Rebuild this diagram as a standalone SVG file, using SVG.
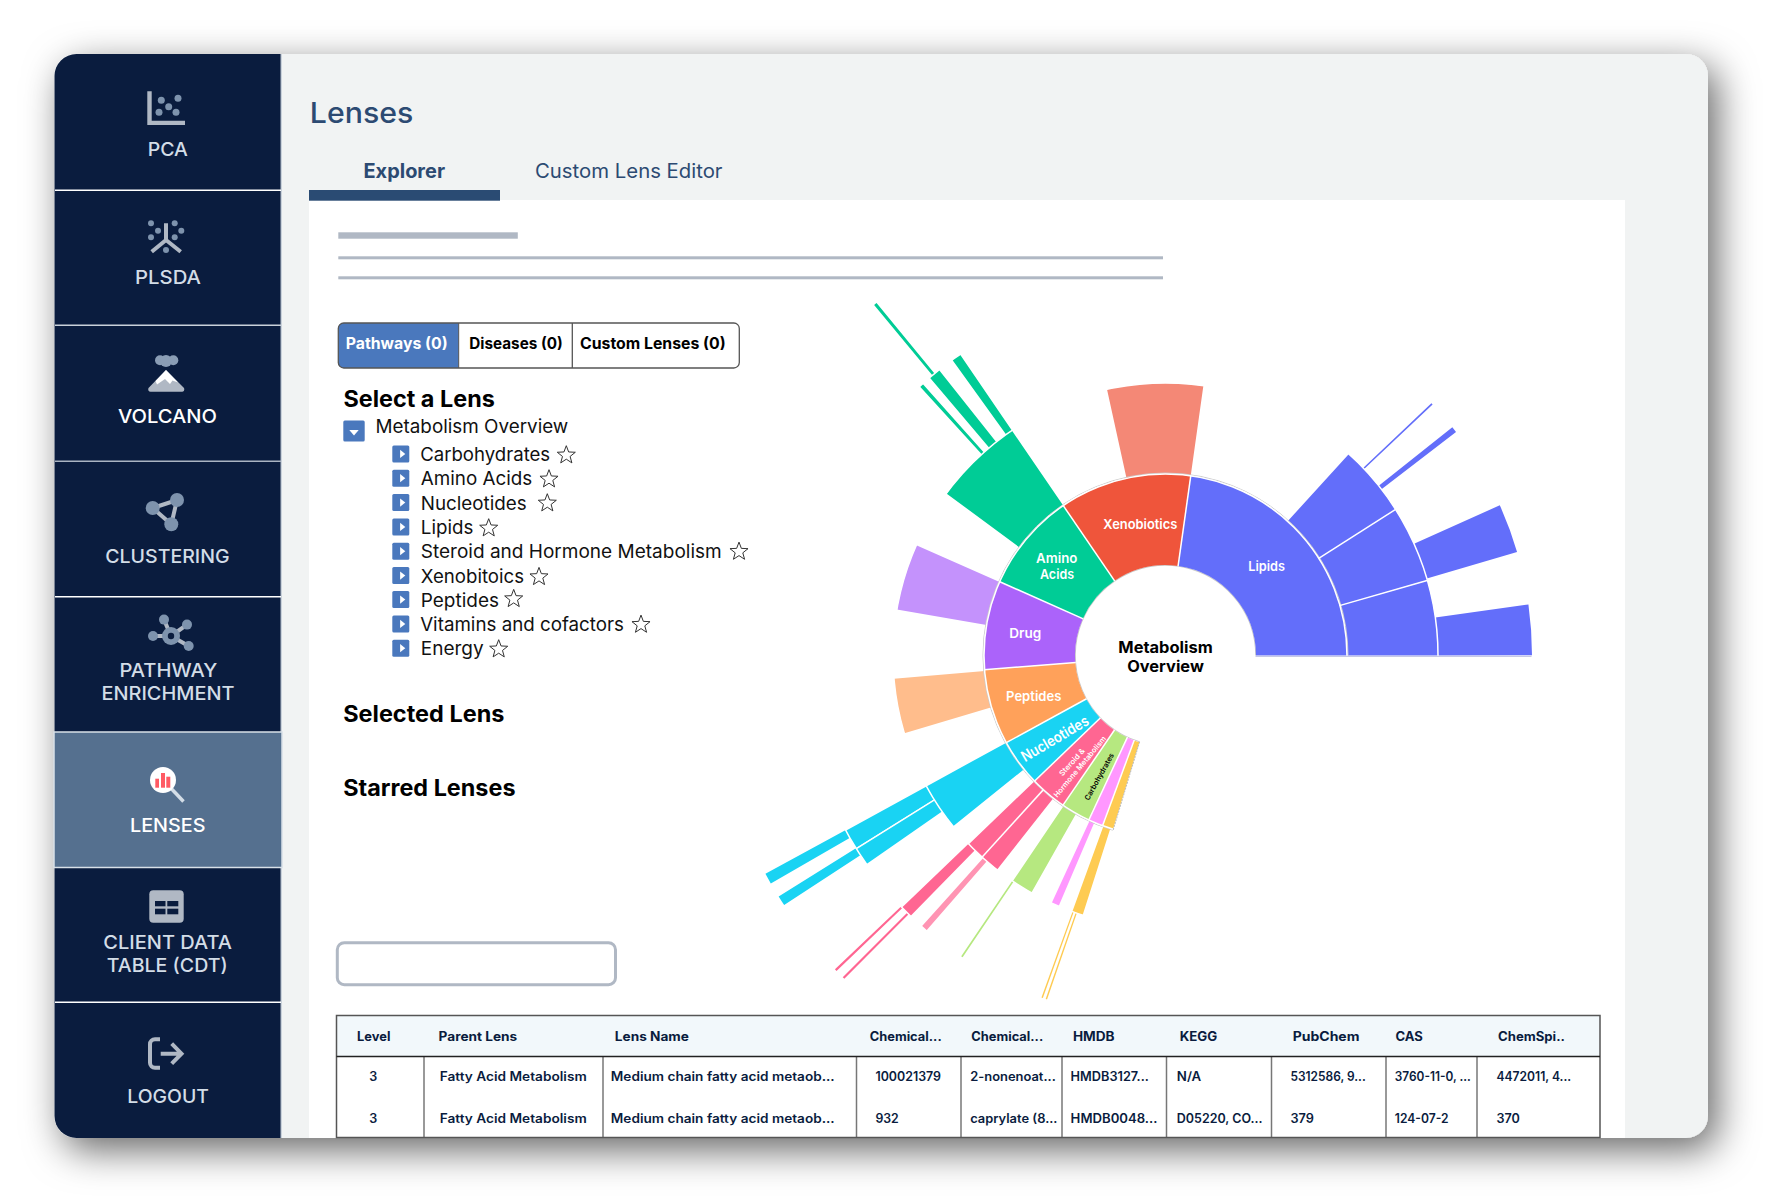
<svg xmlns="http://www.w3.org/2000/svg" xmlns:xlink="http://www.w3.org/1999/xlink" width="1775" height="1204" viewBox="0 0 1775 1204">
<defs>
<filter id="shadow" x="-10%" y="-10%" width="120%" height="125%"><feDropShadow dx="9" dy="12" stdDeviation="19" flood-color="#000" flood-opacity="0.6"/></filter>
<polygon id="star" points="0,-9.5 2.35,-3.24 9.03,-2.94 3.8,1.24 5.58,7.69 0,4 -5.58,7.69 -3.8,1.24 -9.03,-2.94 -2.35,-3.24" fill="none" stroke="#333" stroke-width="1"/>
<g id="box"><rect width="17" height="17" rx="1.5" fill="#4a78bd"/><polygon points="7.8,4.4 13,8.5 7.8,12.6" fill="#fff"/></g>
</defs>
<style>
text{font-family:Inter,"Noto Sans","Liberation Sans",sans-serif}
.nav{font-size:19px;font-weight:500;fill:#d3dde7;text-anchor:start}
.navw{font-size:19px;font-weight:500;fill:#fff}
.ic{fill:#b0b8c4}
.dot{fill:#7e93ad}
.st{fill:none;stroke:#b0b8c4;stroke-width:4}
.h{font-size:22.5px;font-weight:700;fill:#000}
.tr{font-size:18.5px;font-weight:400;fill:#111}
.tab{font-size:15.5px;font-weight:700;fill:#000}
.th{font-size:12.5px;font-weight:700;fill:#0a1c3e}
.td{font-size:12.5px;font-weight:600;fill:#0a1c3e}
.grid{stroke:#777;stroke-width:1.5;fill:none}
.sep{stroke:#fff;stroke-width:1.5}
.lab{font-size:13.5px;font-weight:600;fill:#fff;text-anchor:middle}
</style>

<rect width="1775" height="1204" fill="#fff"/>
<g id="page" transform="translate(0 1)">
<g id="card">
<rect x="54.500" y="53" width="1653.500" height="1084" rx="22" fill="#f1f3f3" filter="url(#shadow)"/>
<rect x="309" y="199" width="1316" height="938" fill="#fff"/>
</g>

<g id="sidebar">
<path d="M281 53H76.500a22 22 0 0 0-22 22V1115a22 22 0 0 0 22 22H281Z" fill="#0a1c3e"/>
<rect x="280.500" y="53" width="1.200" height="1084" fill="#b9c3d0"/>
<rect x="54" y="731" width="228" height="135.500" fill="#55708f" stroke="#d8e0e8" stroke-width="1.500"/>
<g fill="#fff">
<rect x="55" y="188.500" width="226" height="1.500"/>
<rect x="55" y="323.500" width="226" height="1.500" fill="#c9d1da"/>
<rect x="55" y="459.500" width="226" height="1.500" fill="#aab4c2"/>
<rect x="55" y="595" width="226" height="1.500"/>
<rect x="55" y="1000.500" width="226" height="1.500"/>
</g>
<g id="nav-pca" transform="translate(0 -1)">
<path class="ic" d="M147.300 91.300h4.400v29.400H185V125H147.300Z"/>
<g class="dot"><circle cx="161.300" cy="100.300" r="3.500"/><circle cx="178" cy="98.300" r="3.500"/><circle cx="168.700" cy="106.700" r="3.500"/><circle cx="159" cy="112.300" r="3.500"/><circle cx="176" cy="112.300" r="3.500"/></g>
<text class="nav" x="147.700" y="155.700" textLength="40.200" lengthAdjust="spacingAndGlyphs">PCA</text>
</g>
<g id="nav-plsda" transform="translate(0 -1)">
<g class="dot"><circle cx="151" cy="223.300" r="3"/><circle cx="174.700" cy="223.300" r="3"/><circle cx="158" cy="230.700" r="3"/><circle cx="181.300" cy="230.700" r="3"/><circle cx="151" cy="237.300" r="3"/><circle cx="174.700" cy="237.300" r="3"/><circle cx="166" cy="250" r="3"/></g>
<path class="st" d="M166 223.300V240M151.700 251.700 166 240 180.700 251.700"/>
<text class="nav" x="135" y="284" textLength="66" lengthAdjust="spacingAndGlyphs">PLSDA</text>
</g>
<g id="nav-volcano" transform="translate(0 -1)">
<g fill="#8a9db5"><circle cx="160" cy="360.300" r="5"/><circle cx="166" cy="361" r="6"/><circle cx="173.300" cy="360.300" r="5"/></g>
<path class="ic" d="M166 370 184 388a2.500 2.500 0 0 1-2 3.700H150.500a2.500 2.500 0 0 1-2-3.700Z"/>
<path fill="#fff" d="M166 370 178 382.500 172.500 380.500 170 384 165 379 157 384.500 155.500 381Z"/>
<text class="navw" x="117.900" y="423" textLength="99.100" lengthAdjust="spacingAndGlyphs">VOLCANO</text>
</g>
<g id="nav-clustering" transform="translate(0 -0.700)">
<path fill="none" stroke="#b0b8c4" stroke-width="4" d="M152.700 507.700 177 499.700 171.300 524Z"/>
<g class="dot"><circle cx="152.700" cy="507.700" r="7"/><circle cx="177" cy="499.700" r="7"/><circle cx="171.300" cy="524" r="7"/></g>
<text class="nav" x="105.200" y="563" textLength="124.400" lengthAdjust="spacingAndGlyphs">CLUSTERING</text>
</g>
<g id="nav-pathway" transform="translate(0 -0.700)">
<path class="st" d="M171 635.700 164 619.300M171 635.700 187 624.300M171 635.700H153M171 635.700 188.700 645.700" stroke-width="3"/>
<g class="dot"><circle cx="164" cy="619.300" r="5"/><circle cx="187" cy="624.300" r="5"/><circle cx="153" cy="635.700" r="5"/><circle cx="188.700" cy="645.700" r="5"/><circle cx="171" cy="635.700" r="9"/></g>
<circle cx="171" cy="635.700" r="3.200" fill="#0a1c3e"/>
<text class="nav" x="119.400" y="676.700" textLength="98" lengthAdjust="spacingAndGlyphs">PATHWAY</text>
<text class="nav" x="101.400" y="699.300" textLength="133.200" lengthAdjust="spacingAndGlyphs">ENRICHMENT</text>
</g>
<g id="nav-lenses">
<line x1="171.700" y1="788" x2="183.500" y2="800.500" stroke="#d3dde7" stroke-width="3.500"/>
<circle cx="163" cy="779" r="13" fill="#fff"/>
<g fill="#ff5a64"><rect x="155.300" y="777.700" width="3.700" height="9"/><rect x="161" y="772" width="4" height="14.700"/><rect x="166.300" y="775.700" width="4" height="11"/></g>
<text class="navw" x="130" y="831" textLength="75.500" lengthAdjust="spacingAndGlyphs">LENSES</text>
</g>
<g id="nav-cdt">
<rect class="ic" x="149.300" y="889.300" width="34.400" height="32.400" rx="4"/>
<g fill="#0a1c3e"><rect x="155" y="900" width="10.500" height="5.300"/><rect x="167.300" y="900" width="11" height="5.300"/><rect x="155" y="907.700" width="10.500" height="5.600"/><rect x="167.300" y="907.700" width="11" height="5.600"/></g>
<text class="nav" x="103.300" y="948.300" textLength="128.700" lengthAdjust="spacingAndGlyphs">CLIENT DATA</text>
<text class="nav" x="106.700" y="971" textLength="121" lengthAdjust="spacingAndGlyphs">TABLE (CDT)</text>
</g>
<g id="nav-logout">
<path fill="none" stroke="#b0b8c4" stroke-width="4" d="M160 1038.300h-5a5 5 0 0 0-5 5v18.400a5 5 0 0 0 5 5h5"/>
<path fill="none" stroke="#b0b8c4" stroke-width="4" d="M160.700 1052.700H181M171.700 1042.700 181.500 1052.700 171.700 1062.700"/>
<text class="nav" x="127.300" y="1101.700" textLength="81.700" lengthAdjust="spacingAndGlyphs">LOGOUT</text>
</g>
</g>

<g id="header" transform="translate(0 -1)">
<text x="309.800" y="122.700" font-size="29" font-weight="500" fill="#2c4a72" textLength="103.500" lengthAdjust="spacingAndGlyphs">Lenses</text>
<text x="363.500" y="177.700" font-size="19.500" font-weight="700" fill="#2c4a72" textLength="81.500" lengthAdjust="spacingAndGlyphs">Explorer</text>
<text x="535" y="177.700" font-size="19.500" font-weight="400" fill="#2c4a72" textLength="187.500" lengthAdjust="spacingAndGlyphs">Custom Lens Editor</text>
<rect x="309" y="190" width="191" height="10.700" fill="#2a4b73"/>
</g>
<g id="placeholders" fill="#b0b8c4" transform="translate(0 -1)">
<rect x="338.300" y="232.300" width="179.500" height="6.400"/>
<rect x="338.300" y="256.300" width="824.700" height="3"/>
<rect x="338.300" y="276.300" width="824.700" height="3"/>
</g>

<g id="tabs" transform="translate(0 -1)">
<path d="M458.700 323H343.300a5 5 0 0 0-5 5v35a5 5 0 0 0 5 5H458.700Z" fill="#4a78bd"/>
<rect x="338.300" y="323" width="401" height="45" rx="5.500" fill="none" stroke="#555" stroke-width="1.300"/>
<line x1="458.700" y1="323" x2="458.700" y2="368" stroke="#555" stroke-width="1"/>
<line x1="572.300" y1="323" x2="572.300" y2="368" stroke="#555" stroke-width="1.300"/>
<text class="tab" style="fill:#fff" x="345.700" y="349.300" textLength="102" lengthAdjust="spacingAndGlyphs">Pathways (0)</text>
<text class="tab" x="469.300" y="349.300" textLength="93.400" lengthAdjust="spacingAndGlyphs">Diseases (0)</text>
<text class="tab" x="580" y="349.300" textLength="145.700" lengthAdjust="spacingAndGlyphs">Custom Lenses (0)</text>
</g>

<g id="tree" transform="translate(-0.500 -0.600)">
<text class="h" x="344" y="406.700" textLength="151.300" lengthAdjust="spacingAndGlyphs">Select a Lens</text>
<rect x="343.800" y="420" width="21.400" height="21" rx="1.500" fill="#4a78bd"/>
<polygon points="349.800,429.500 359.200,429.500 354.500,435" fill="#fff"/>
<text class="tr" x="376" y="432.300" textLength="192.800" lengthAdjust="spacingAndGlyphs">Metabolism Overview</text>
<use xlink:href="#box" href="#box" x="392.800" y="445"/><text class="tr" x="420.700" y="461" textLength="130" lengthAdjust="spacingAndGlyphs">Carbohydrates</text><use href="#star" xlink:href="#star" x="566.800" y="454.800"/>
<use xlink:href="#box" href="#box" x="392.800" y="469.300"/><text class="tr" x="421.300" y="485" textLength="111.500" lengthAdjust="spacingAndGlyphs">Amino Acids</text><use href="#star" xlink:href="#star" x="549.500" y="478.800"/>
<use xlink:href="#box" href="#box" x="392.800" y="493.700"/><text class="tr" x="421.300" y="509.300" textLength="105.900" lengthAdjust="spacingAndGlyphs">Nucleotides</text><use href="#star" xlink:href="#star" x="547.800" y="502.800"/>
<use xlink:href="#box" href="#box" x="392.800" y="518"/><text class="tr" x="421.300" y="534" textLength="52.500" lengthAdjust="spacingAndGlyphs">Lipids</text><use href="#star" xlink:href="#star" x="489.200" y="527.800"/>
<use xlink:href="#box" href="#box" x="392.800" y="542.300"/><text class="tr" x="421.300" y="558" textLength="300.900" lengthAdjust="spacingAndGlyphs">Steroid and Hormone Metabolism</text><use href="#star" xlink:href="#star" x="739.500" y="551.200"/>
<use xlink:href="#box" href="#box" x="392.800" y="566.700"/><text class="tr" x="421.300" y="582.300" textLength="103.200" lengthAdjust="spacingAndGlyphs">Xenobitoics</text><use href="#star" xlink:href="#star" x="539.500" y="576.500"/>
<use xlink:href="#box" href="#box" x="392.800" y="590.700"/><text class="tr" x="421.300" y="606.700" textLength="78.200" lengthAdjust="spacingAndGlyphs">Peptides</text><use href="#star" xlink:href="#star" x="514.200" y="598.500"/>
<use xlink:href="#box" href="#box" x="392.800" y="615"/><text class="tr" x="420.700" y="631" textLength="203.800" lengthAdjust="spacingAndGlyphs">Vitamins and cofactors</text><use href="#star" xlink:href="#star" x="641.500" y="624.200"/>
<use xlink:href="#box" href="#box" x="392.800" y="639.300"/><text class="tr" x="421.300" y="655" textLength="62.900" lengthAdjust="spacingAndGlyphs">Energy</text><use href="#star" xlink:href="#star" x="499.200" y="648.800"/>
<text class="h" x="343.700" y="721.700" textLength="161.200" lengthAdjust="spacingAndGlyphs">Selected Lens</text>
<text class="h" x="343.700" y="795.700" textLength="172.300" lengthAdjust="spacingAndGlyphs">Starred Lenses</text>
</g>

<rect id="search" x="337.300" y="941.700" width="278.200" height="42" rx="7" fill="#fff" stroke="#b0b8c4" stroke-width="3"/>

<g id="sunburst" transform="translate(1165.5 654.500)" fill="none">
<g id="ring5" stroke-width="91.500">
<circle r="410" pathLength="360" stroke="#00cc96" stroke-dasharray="0.42 360" transform="rotate(-129.75)"/>
<circle r="410" pathLength="360" stroke="#19d3f3" stroke-dasharray="1.4 360" transform="rotate(-210)"/>
<circle r="410" pathLength="360" stroke="#19d3f3" stroke-dasharray="1.3 360" transform="rotate(-213.2)"/>
<circle r="410" pathLength="360" stroke="#ff6692" stroke-dasharray="0.3 360" transform="rotate(-223.8)"/>
<circle r="410" pathLength="360" stroke="#ff6692" stroke-dasharray="0.3 360" transform="rotate(-225.2)"/>
</g>
<g id="ring4" stroke-width="92">
<circle r="319.500" stroke-width="94" pathLength="360" stroke="#636efa" stroke-dasharray="8 360" transform="rotate(-8)"/>
<circle r="319.500" stroke-width="94" pathLength="360" stroke="#636efa" stroke-dasharray="7.8 360" transform="rotate(-24.2)"/>
<circle r="319.500" stroke-width="94" pathLength="360" stroke="#636efa" stroke-dasharray="0.95 360" transform="rotate(-38.5)"/>
<circle r="319.500" stroke-width="94" pathLength="360" stroke="#636efa" stroke-dasharray="0.3 360" transform="rotate(-43.5)"/>
<circle r="318.500" pathLength="360" stroke="#00cc96" stroke-dasharray="1.5 360" transform="rotate(-125.8)"/>
<circle r="318.500" pathLength="360" stroke="#00cc96" stroke-dasharray="1.9 360" transform="rotate(-130.3)"/>
<circle r="318.500" pathLength="360" stroke="#00cc96" stroke-dasharray="0.6 360" transform="rotate(-132.4)"/>
<circle r="318.500" pathLength="360" stroke="#19d3f3" stroke-dasharray="3.2 360" transform="rotate(-211.9)"/>
<circle r="318.500" pathLength="360" stroke="#19d3f3" stroke-dasharray="2.9 360" transform="rotate(-214.9)"/>
<circle r="318.500" pathLength="360" stroke="#ff6692" stroke-dasharray="1.9 360" transform="rotate(-225.6)"/>
<circle r="318.500" pathLength="360" stroke="#ff94b3" stroke-dasharray="1 360" transform="rotate(-229)"/>
<circle r="318.500" pathLength="360" stroke="#b6e880" stroke-dasharray="0.3 360" transform="rotate(-236.1)"/>
<circle r="318.500" pathLength="360" stroke="#fecb52" stroke-dasharray="0.25 360" transform="rotate(-250.3)"/>
<circle r="318.500" pathLength="360" stroke="#fecb52" stroke-dasharray="0.25 360" transform="rotate(-251)"/>
</g>
<g id="ring3" stroke-width="91">
<circle r="227" pathLength="360" stroke="#636efa" stroke-dasharray="16 360" transform="rotate(-16)"/>
<circle r="227" pathLength="360" stroke="#636efa" stroke-dasharray="16.400 360" transform="rotate(-32.4)"/>
<circle r="227" pathLength="360" stroke="#636efa" stroke-dasharray="15.300 360" transform="rotate(-47.7)"/>
<circle r="227" pathLength="360" stroke="#f48876" stroke-dasharray="20.400 360" transform="rotate(-102.4)"/>
<circle r="227" pathLength="360" stroke="#00cc96" stroke-dasharray="19.200 360" transform="rotate(-143.5)"/>
<circle r="227" pathLength="360" stroke="#c492fc" stroke-dasharray="14.200 360" transform="rotate(-170.3)"/>
<circle r="227" pathLength="360" stroke="#ffbd8c" stroke-dasharray="11.700 360" transform="rotate(-196.6)"/>
<circle r="227" pathLength="360" stroke="#19d3f3" stroke-dasharray="10.100 360" transform="rotate(-218.8)"/>
<circle r="227" pathLength="360" stroke="#ff6692" stroke-dasharray="3.900 360" transform="rotate(-227.7)"/>
<circle r="227" pathLength="360" stroke="#ff6692" stroke-dasharray="4.100 360" transform="rotate(-231.8)"/>
<circle r="227" pathLength="360" stroke="#b6e880" stroke-dasharray="4.600 360" transform="rotate(-240.5)"/>
<circle r="227" pathLength="360" stroke="#ff97ff" stroke-dasharray="1.600 360" transform="rotate(-246.9)"/>
<circle r="227" pathLength="360" stroke="#fecb52" stroke-dasharray="2.300 360" transform="rotate(-252.3)"/>
</g>
<circle r="182.500" pathLength="360" stroke="#c9c9c9" stroke-width="0.900" stroke-dasharray="253.2 360" transform="rotate(-253.2)"/>
<circle r="90.200" pathLength="360" stroke="#c9c9c9" stroke-width="1" stroke-dasharray="253.2 360" transform="rotate(-253.2)"/>
<g id="ring1" stroke-width="91">
<circle id="lipids" r="136" pathLength="360" stroke="#636efa" stroke-dasharray="82 360" transform="rotate(-82)"/>
<circle id="xenobiotics" r="136" pathLength="360" stroke="#ef553b" stroke-dasharray="42.300 360" transform="rotate(-124.3)"/>
<circle id="amino-acids" r="136" pathLength="360" stroke="#00cc96" stroke-dasharray="31.700 360" transform="rotate(-156)"/>
<circle id="drug" r="136" pathLength="360" stroke="#ab63fa" stroke-dasharray="28.500 360" transform="rotate(-184.5)"/>
<circle id="peptides" r="136" pathLength="360" stroke="#ffa15a" stroke-dasharray="24.200 360" transform="rotate(-208.7)"/>
<circle id="nucleotides" r="136" pathLength="360" stroke="#19d3f3" stroke-dasharray="15.100 360" transform="rotate(-223.8)"/>
<circle id="steroid" r="136" pathLength="360" stroke="#ff6692" stroke-dasharray="11.800 360" transform="rotate(-235.6)"/>
<circle id="carbohydrates" r="136" pathLength="360" stroke="#b6e880" stroke-dasharray="9.400 360" transform="rotate(-245)"/>
<circle id="vitamins" r="136" pathLength="360" stroke="#ff97ff" stroke-dasharray="4.700 360" transform="rotate(-249.7)"/>
<circle id="energy" r="136" pathLength="360" stroke="#fecb52" stroke-dasharray="3.500 360" transform="rotate(-253.2)"/>
</g>
<g stroke="#fff" stroke-width="1.500">
<circle r="181.500"/>
<circle r="272.500"/>
<circle r="364.500" pathLength="360" stroke-dasharray="200 360" transform="rotate(-300)"/>
</g>
<g id="separators" class="sep">
<line x1="90" x2="182" transform="rotate(-82)"/><line x1="90" x2="182" transform="rotate(-124.3)"/><line x1="90" x2="182" transform="rotate(-156)"/><line x1="90" x2="182" transform="rotate(-184.5)"/><line x1="90" x2="182" transform="rotate(-208.7)"/><line x1="90" x2="182" transform="rotate(-223.8)"/><line x1="90" x2="182" transform="rotate(-235.6)"/><line x1="90" x2="182" transform="rotate(-245)"/><line x1="90" x2="182" transform="rotate(-249.7)"/>
<line x1="181" x2="273" transform="rotate(-16)"/><line x1="181" x2="273" transform="rotate(-32.4)"/><line x1="181" x2="273" transform="rotate(-227.7)"/>
<line x1="272" x2="365" transform="rotate(-212)"/>
</g>
<line x1="90" x2="366" stroke="#c6c8e6" stroke-width="1.200" y1="0.800" y2="0.800"/>
<line x1="90" x2="182" stroke="#bbb" stroke-width="1" stroke-dasharray="2 1" transform="rotate(-253.3)"/>
<g id="sun-labels">
<text class="lab" x="0" y="-2.300" style="font-size:15.500px;font-weight:700;fill:#000" textLength="94.400" lengthAdjust="spacingAndGlyphs">Metabolism</text>
<text class="lab" x="0" y="16.700" style="font-size:15.500px;font-weight:700;fill:#000" textLength="76.700" lengthAdjust="spacingAndGlyphs">Overview</text>
<text class="lab" x="101.200" y="-85" textLength="36.700" lengthAdjust="spacingAndGlyphs">Lipids</text>
<text class="lab" x="-25.200" y="-127" textLength="74" lengthAdjust="spacingAndGlyphs">Xenobiotics</text>
<text class="lab" x="-108.800" y="-92.300" textLength="41.300" lengthAdjust="spacingAndGlyphs">Amino</text>
<text class="lab" x="-108.500" y="-77" textLength="34" lengthAdjust="spacingAndGlyphs">Acids</text>
<text class="lab" x="-140.200" y="-17.500" textLength="32" lengthAdjust="spacingAndGlyphs">Drug</text>
<text class="lab" x="-131.800" y="45" textLength="55.300" lengthAdjust="spacingAndGlyphs">Peptides</text>
<text class="lab" transform="translate(-110.500 83.300) rotate(-30.500)" y="5" style="font-size:15px" textLength="75.500" lengthAdjust="spacingAndGlyphs">Nucleotides</text>
<text class="lab" transform="translate(-93.500 106.700) rotate(-48)" y="2.500" style="font-size:7.500px" textLength="34" lengthAdjust="spacingAndGlyphs">Steroid &amp;</text>
<text class="lab" transform="translate(-85.500 111.300) rotate(-50)" y="2.500" style="font-size:7.500px" textLength="77" lengthAdjust="spacingAndGlyphs">Hormone Metabolism</text>
<text class="lab" transform="translate(-66.200 121.300) rotate(-60.800)" y="2.500" style="font-size:7.500px;fill:#000" textLength="52.700" lengthAdjust="spacingAndGlyphs">Carbohydrates</text>
</g>
</g>

<g id="table" transform="translate(0 -0.500)">
<rect x="336.500" y="1015" width="1263.500" height="41" fill="#f2f8fb"/>
<g class="grid">
<line x1="424" y1="1056" x2="424" y2="1137"/><line x1="603" y1="1056" x2="603" y2="1137"/><line x1="856.500" y1="1056" x2="856.500" y2="1137"/><line x1="961" y1="1056" x2="961" y2="1137"/><line x1="1062" y1="1056" x2="1062" y2="1137"/><line x1="1166.500" y1="1056" x2="1166.500" y2="1137"/><line x1="1271.500" y1="1056" x2="1271.500" y2="1137"/><line x1="1386" y1="1056" x2="1386" y2="1137"/><line x1="1477" y1="1056" x2="1477" y2="1137"/>
<rect x="336.500" y="1015" width="1263.500" height="122" stroke="#555"/>
</g>
<line x1="336.500" y1="1056" x2="1600" y2="1056" stroke="#222" stroke-width="1.500"/>
<g id="thead">
<text class="th" x="357" y="1040" textLength="33.400" lengthAdjust="spacingAndGlyphs">Level</text>
<text class="th" x="438.600" y="1040" textLength="78.600" lengthAdjust="spacingAndGlyphs">Parent Lens</text>
<text class="th" x="614.800" y="1040" textLength="74.100" lengthAdjust="spacingAndGlyphs">Lens Name</text>
<text class="th" x="869.700" y="1040" textLength="72" lengthAdjust="spacingAndGlyphs">Chemical...</text>
<text class="th" x="971.300" y="1040" textLength="71.900" lengthAdjust="spacingAndGlyphs">Chemical...</text>
<text class="th" x="1072.900" y="1040" textLength="41.700" lengthAdjust="spacingAndGlyphs">HMDB</text>
<text class="th" x="1179.700" y="1040" textLength="37.600" lengthAdjust="spacingAndGlyphs">KEGG</text>
<text class="th" x="1292.700" y="1040" textLength="66.800" lengthAdjust="spacingAndGlyphs">PubChem</text>
<text class="th" x="1395.400" y="1040" textLength="27.400" lengthAdjust="spacingAndGlyphs">CAS</text>
<text class="th" x="1498" y="1040" textLength="66.900" lengthAdjust="spacingAndGlyphs">ChemSpi..</text>
</g>
<g id="row1">
<text class="td" x="369.200" y="1080" textLength="8" lengthAdjust="spacingAndGlyphs">3</text>
<text class="td" x="439.700" y="1080" textLength="147" lengthAdjust="spacingAndGlyphs">Fatty Acid Metabolism</text>
<text class="td" x="610.800" y="1080" textLength="223.900" lengthAdjust="spacingAndGlyphs">Medium chain fatty acid metaob...</text>
<text class="td" x="875.400" y="1080" textLength="65.600" lengthAdjust="spacingAndGlyphs">100021379</text>
<text class="td" x="970.200" y="1080" textLength="85.600" lengthAdjust="spacingAndGlyphs">2-nonenoat...</text>
<text class="td" x="1070.600" y="1080" textLength="78.200" lengthAdjust="spacingAndGlyphs">HMDB3127...</text>
<text class="td" x="1176.800" y="1080" textLength="24.500" lengthAdjust="spacingAndGlyphs">N/A</text>
<text class="td" x="1290.400" y="1080" textLength="75.300" lengthAdjust="spacingAndGlyphs">5312586, 9...</text>
<text class="td" x="1394.800" y="1080" textLength="76" lengthAdjust="spacingAndGlyphs">3760-11-0, ...</text>
<text class="td" x="1496.400" y="1080" textLength="74.800" lengthAdjust="spacingAndGlyphs">4472011, 4...</text>
</g>
<g id="row2">
<text class="td" x="369.200" y="1122" textLength="8" lengthAdjust="spacingAndGlyphs">3</text>
<text class="td" x="439.700" y="1122" textLength="147" lengthAdjust="spacingAndGlyphs">Fatty Acid Metabolism</text>
<text class="td" x="610.800" y="1122" textLength="223.900" lengthAdjust="spacingAndGlyphs">Medium chain fatty acid metaob...</text>
<text class="td" x="875.400" y="1122" textLength="23.400" lengthAdjust="spacingAndGlyphs">932</text>
<text class="td" x="970.200" y="1122" textLength="87.300" lengthAdjust="spacingAndGlyphs">caprylate (8...</text>
<text class="td" x="1070.600" y="1122" textLength="86.800" lengthAdjust="spacingAndGlyphs">HMDB0048...</text>
<text class="td" x="1176.800" y="1122" textLength="85.600" lengthAdjust="spacingAndGlyphs">D05220, CO...</text>
<text class="td" x="1290.400" y="1122" textLength="23.400" lengthAdjust="spacingAndGlyphs">379</text>
<text class="td" x="1394.800" y="1122" textLength="53.700" lengthAdjust="spacingAndGlyphs">124-07-2</text>
<text class="td" x="1496.400" y="1122" textLength="23.400" lengthAdjust="spacingAndGlyphs">370</text>
</g>
</g>
</g>
</svg>
